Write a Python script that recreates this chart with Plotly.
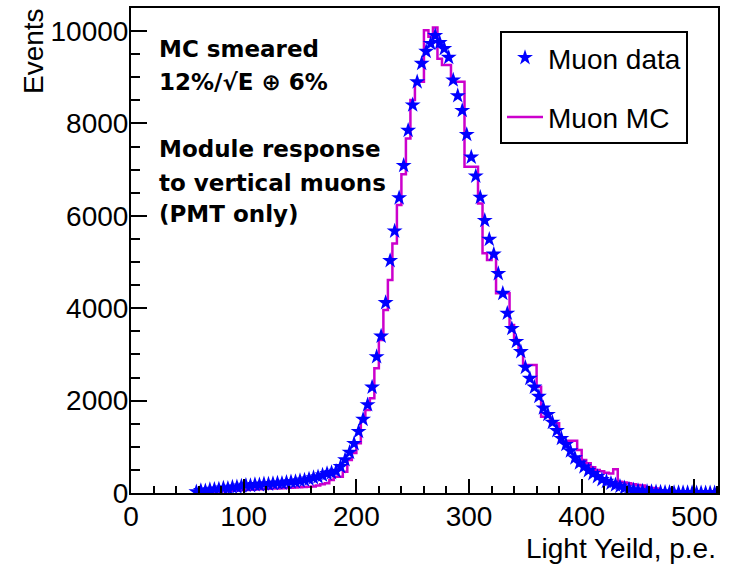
import numpy as np
import plotly.graph_objects as go

# Bin centres (4 p.e. bins) of the light-yield histograms
bin_centers = list(range(58, 519, 4))

muon_data = [
    25, 50, 45, 70, 80, 85, 105, 100, 125, 130,          # 58-94
    150, 165, 160, 180, 175, 195, 190, 205, 215, 210,     # 98-134
    230, 240, 245, 265, 280, 300, 330, 350, 385, 420,     # 138-174
    440, 470, 570, 720, 880, 1070, 1330, 1594, 1910, 2290,  # 178-214
    2950, 3395, 4120, 5030, 5670, 6390, 7090, 7850, 8400, 8900,  # 218-254
    9300, 9560, 9730, 9900, 9750, 9620, 9430, 8940, 8600, 8280,  # 258-294
    7760, 7270, 6860, 6400, 5900, 5490, 5170, 4750, 4320, 3890,  # 298-334
    3560, 3280, 3060, 2720, 2480, 2290, 2090, 1840, 1700, 1530,  # 338-374
    1350, 1180, 1050, 910, 760, 650, 565, 485, 420, 355,   # 378-414
    290, 250, 210, 175, 145, 110, 82, 66, 50, 42,          # 418-454
    33, 27, 22, 17, 14, 12, 10, 8, 7, 6,                  # 458-494
    5, 4, 4, 3, 3, 2,                                      # 498-518
]

muon_mc = [
    10, 15, 20, 25, 30, 35, 40, 45, 50, 55,               # 58-94
    60, 65, 70, 75, 80, 85, 90, 95, 100, 105,             # 98-134
    110, 115, 120, 125, 130, 135, 140, 160, 190, 210,     # 138-174
    280, 353, 353, 461, 714, 866, 1075, 1580, 1797, 2050,  # 178-214
    2700, 3312, 3961, 4610, 5404, 6234, 6900, 7677, 8506, 8903,  # 218-254
    8903, 10020, 9877, 10080, 9400, 9264, 9264, 8903, 8903, 8903,  # 258-294
    7063, 7063, 7063, 6270, 5188, 5043, 5188, 4322, 4322, 4322,  # 298-334
    3636, 3312, 3050, 2770, 2770, 2770, 2300, 1652, 1652, 1508,  # 338-374
    1508, 1111, 1111, 1132, 1132, 930, 714, 642, 560, 500,  # 378-414
    470, 440, 420, 513, 245, 230, 210, 190, 173, 160,      # 418-454
    130, 110, 100, 60, 40, 30, 25, 20, 15, 12,            # 458-494
    10, 8, 6, 5, 4, 3,                                    # 498-518
]

x_ticks = [0, 100, 200, 300, 400, 500]
y_ticks = [0, 2000, 4000, 6000, 8000, 10000]

half = 2
edges = np.append(np.array(bin_centers) - half, bin_centers[-1] + half)
mc_steps = np.append(muon_mc, muon_mc[-1])

fig = go.Figure()
fig.add_trace(go.Scatter(
    x=edges, y=mc_steps, mode="lines", line_shape="hv",
    line=dict(color="#cc00cc", width=2.5), name="Muon MC",
    legendgroup="b", legendrank=2,
))
fig.add_trace(go.Scatter(
    x=bin_centers, y=muon_data, mode="markers",
    marker=dict(symbol="star", size=12, color="#0000ff", line=dict(width=0)),
    name="Muon data", legendgroup="a", legendrank=1,
))

W, H = 730, 565
L, R, T, B = 131, 12, 6, 72
pw, ph = W - L - R, H - T - B

def px(xp):
    return (xp - L) / pw

def py(yp):
    return (H - B - yp) / ph

FONT = "Liberation Sans, Arial, sans-serif"
axis_font = dict(family=FONT, size=28, color="black")

fig.update_layout(
    width=W, height=H,
    margin=dict(l=L, r=R, t=T, b=B),
    plot_bgcolor="white", paper_bgcolor="white",
    showlegend=True,
    legend=dict(
        x=px(500), y=py(29), xanchor="left", yanchor="top",
        bordercolor="black", borderwidth=2, bgcolor="white",
        font=dict(family=FONT, size=28, color="black"),
        traceorder="grouped", tracegroupgap=20, itemwidth=36,
    ),
    xaxis=dict(
        range=[0, 521], tickvals=x_ticks, ticks="inside", ticklen=14, tickwidth=2,
        tickcolor="black", showline=True, linecolor="black", linewidth=2, mirror=True,
        showgrid=False, zeroline=False, tickfont=axis_font, tickformat="d",
        ticklabelstandoff=-3,
        minor=dict(dtick=20, ticks="inside", ticklen=7, tickwidth=2, tickcolor="black"),
    ),
    yaxis=dict(
        range=[0, 10500], tickvals=y_ticks, ticks="inside", ticklen=16, tickwidth=2,
        tickcolor="black", showline=True, linecolor="black", linewidth=2, mirror=True,
        showgrid=False, zeroline=False, tickfont=axis_font, tickformat="d",
        ticklabelstandoff=-5,
        minor=dict(dtick=500, ticks="inside", ticklen=9, tickwidth=2, tickcolor="black"),
    ),
)

annots = [
    dict(text="Light Yeild, p.e.", x=1.0, y=py(549), xanchor="right", yanchor="middle",
         font=axis_font),
    dict(text="Events", x=px(33), y=py(4), xanchor="center", yanchor="top",
         textangle=-90, font=axis_font),
]
note_font = dict(family="DejaVu Sans, sans-serif", size=23, color="black")
note_lines = [
    ("MC smeared", 47),
    ("12%/\u221aE \u2295 6%", 80),
    ("Module response", 148),
    ("to vertical muons", 182),
    ("(PMT only)", 213),
]
for txt, yp in note_lines:
    annots.append(dict(text="<b>" + txt + "</b>", x=px(157), y=py(yp),
                       xanchor="left", yanchor="middle", font=note_font))

for a in annots:
    a.update(xref="paper", yref="paper", showarrow=False)
fig.update_layout(annotations=annots)

fig.write_html("out.html")
